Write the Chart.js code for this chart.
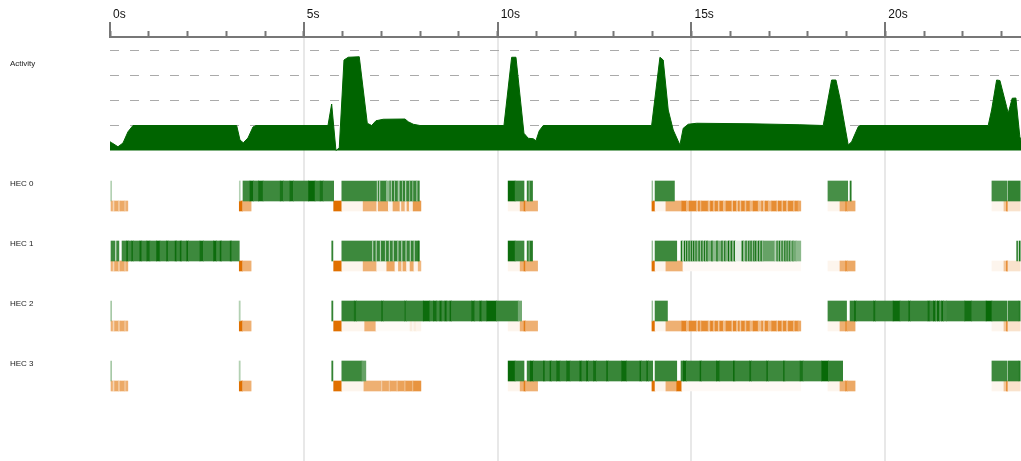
<!DOCTYPE html>
<html><head><meta charset="utf-8">
<script src="https://cdn.jsdelivr.net/npm/chart.js@4.4.1/dist/chart.umd.min.js"></script>
<style>html,body{margin:0;padding:0;background:#fff;} #wrap{width:1021px;height:461px;position:relative;}</style>
</head><body><div id="wrap"><canvas id="c"></canvas></div>
<script>
// ---------- DATA ----------
const rowLabels = ['Activity', 'HEC 0', 'HEC 1', 'HEC 2', 'HEC 3'];
const timeTicks = [0, 5, 10, 15, 20];
const minorTicks = [0,1,2,3,4,5,6,7,8,9,10,11,12,13,14,15,16,17,18,19,20,21,22,23];
const activityGrid = [1, 2, 3, 4];

// activity curve: time (s) and level
const activityTimes = [0,0.044,0.206,0.335,0.464,0.593,3.268,3.353,3.438,3.559,3.688,3.766,5.623,5.718,5.829,5.914,6.036,6.146,6.430,6.637,6.750,6.861,7.049,7.609,7.694,7.823,7.996,10.162,10.361,10.472,10.678,10.789,10.918,10.988,11.073,11.176,13.972,14.186,14.271,14.400,14.529,14.702,14.787,14.916,15.133,16.51,17.797,18.398,18.615,18.726,18.829,19.043,19.131,19.301,19.345,22.654,22.742,22.871,22.956,23.129,23.170,23.273,23.368,23.47,23.5];
const activityValues = [0.35,0.31,0.15,0.30,0.75,1.0,1.0,0.42,0.31,0.50,0.94,1.0,1.0,1.86,0.0,0.1,3.62,3.73,3.75,1.09,1.0,1.19,1.25,1.26,1.15,1.05,1.0,1.0,3.73,3.73,0.69,0.49,0.47,0.39,0.79,1.0,1.0,3.73,3.62,1.62,0.82,0.22,0.89,1.05,1.09,1.07,1.03,1.0,2.82,2.82,2.09,0.22,0.35,0.95,1.0,1.0,1.62,2.82,2.8,1.75,1.49,2.09,2.1,0.55,0.4];

// segments: [start s, end s, intensity]
const gcStart = [[0,0.08,.55],[0.08,0.12,.3],[0.12,0.22,.6],[0.22,0.26,.35],[0.26,0.38,.6],[0.38,0.41,.35],[0.41,0.46,.55],[3.335,3.42,1],[3.42,3.64,.55]];
const gcMid = [[10.27,10.58,.07],[10.58,10.68,.55],[10.68,10.72,.9],[10.72,11.03,.55]];
const gcEnd = [[18.52,18.83,.07],[18.83,18.97,.55],[18.97,19.02,.75],[19.02,19.22,.6],[22.75,23.06,.07],[23.06,23.13,.4],[23.13,23.16,.95],[23.16,23.48,.2]];
const gcStripes = [[14.75,14.87,.85],[14.87,14.94,.5],[14.94,15.13,.82],[15.13,15.18,.45],[15.18,15.22,.85],[15.22,15.26,.5],[15.26,15.43,.8],[15.43,15.49,.45],[15.49,15.56,.85],[15.56,15.61,.5],[15.61,15.69,.8],[15.69,15.73,.4],[15.73,15.82,.82],[15.82,15.89,.45],[15.89,16.04,.8],[16.04,16.08,.4],[16.08,16.16,.82],[16.16,16.21,.45],[16.21,16.25,.8],[16.25,16.29,.4],[16.29,16.38,.82],[16.38,16.42,.45],[16.42,16.51,.8],[16.51,16.59,.5],[16.59,16.72,.82],[16.72,16.81,.45],[16.81,16.85,.8],[16.85,16.9,.4],[16.9,16.98,.8],[16.98,17.07,.5],[17.07,17.2,.8],[17.2,17.24,.45],[17.24,17.33,.82],[17.33,17.37,.45],[17.37,17.45,.8],[17.45,17.5,.45],[17.5,17.63,.8],[17.63,17.67,.5],[17.67,17.75,.78],[17.75,17.82,.6]];

const hec0Run = [[0,0.03,.6],[3.335,3.36,.3],
 [3.43,3.61,.76],[3.61,3.70,.95],[3.70,3.83,.76],[3.83,3.95,.92],[3.95,4.39,.76],[4.39,4.47,.9],[4.47,4.64,.76],[4.64,4.73,.92],[4.73,5.12,.78],[5.12,5.29,.97],[5.29,5.42,.78],[5.42,5.50,.9],[5.50,5.77,.76],
 [5.98,6.89,.76],[6.89,6.92,.3],[6.92,6.95,.8],[6.95,6.98,.3],[6.98,7.13,.78],[7.13,7.22,.45],[7.22,7.25,.8],[7.25,7.28,.3],[7.28,7.34,.8],[7.34,7.36,.3],[7.36,7.43,.78],[7.43,7.48,.35],[7.48,7.54,.8],[7.54,7.56,.3],[7.56,7.62,.8],[7.62,7.65,.3],[7.65,7.73,.78],[7.73,7.75,.3],[7.75,7.81,.8],[7.81,7.83,.3],[7.83,7.91,.78],[7.91,7.94,.35],[7.94,7.98,.8],
 [10.27,10.45,.97],[10.45,10.68,.78],[10.76,10.81,.8],[10.81,10.83,.3],[10.83,10.9,.8],
 [13.98,14.0,.4],[14.06,14.56,.76],[18.52,19.03,.72],[19.09,19.12,.85],[22.75,23.13,.74],[23.16,23.48,.8]];
const hec0Gc = [...gcStart,[5.77,5.98,1],[5.98,6.53,.07],[6.53,6.88,.55],[6.88,6.92,.1],[6.92,7.18,.6],[7.18,7.30,.08],[7.30,7.48,.6],[7.48,7.52,.1],[7.52,7.61,.55],[7.61,7.66,.1],[7.66,7.72,.6],[7.72,7.82,.1],[7.82,8.02,.7],
 ...gcMid,[13.98,14.06,1],[14.06,14.34,.07],[14.34,14.75,.55],...gcStripes,...gcEnd];

const hec1Run = [[0,0.13,.76],[0.17,0.23,.76],
 [0.31,0.43,.76],[0.43,0.47,.95],[0.47,0.56,.76],[0.56,0.60,.92],[0.60,0.77,.76],[0.77,0.82,.95],[0.82,0.95,.76],[0.95,1.03,.92],[1.03,1.2,.76],[1.2,1.29,.95],[1.29,1.46,.76],[1.46,1.5,.95],[1.5,1.68,.76],[1.68,1.72,.95],[1.72,1.81,.78],[1.81,1.85,.95],[1.85,1.98,.76],[1.98,2.02,.95],[2.02,2.32,.76],[2.32,2.41,.92],[2.41,2.67,.76],[2.67,2.75,.95],[2.75,2.84,.76],[2.84,2.88,.95],[2.88,3.1,.76],[3.1,3.14,.92],[3.14,3.335,.76],
 [5.72,5.75,.8],
 [5.98,6.77,.76],[6.77,6.8,.3],[6.8,6.86,.8],[6.86,6.89,.3],[6.89,6.97,.78],[6.97,7.0,.3],[7.0,7.1,.8],[7.1,7.13,.35],[7.13,7.2,.8],[7.2,7.23,.3],[7.23,7.3,.78],[7.3,7.33,.3],[7.33,7.42,.8],[7.42,7.45,.3],[7.45,7.52,.78],[7.52,7.55,.3],[7.55,7.63,.8],[7.63,7.66,.3],[7.66,7.74,.78],[7.74,7.77,.3],[7.77,7.84,.8],[7.84,7.87,.3],[7.87,7.95,.8],[7.95,7.98,.9],
 [10.27,10.45,.95],[10.45,10.68,.76],[10.76,10.81,.8],[10.81,10.83,.3],[10.83,10.9,.85],
 [13.98,14.0,.4],[14.06,14.62,.76],
 [14.73,14.77,.9],[14.77,14.81,.2],[14.81,14.84,.95],[14.84,14.87,.4],[14.87,14.9,.95],[14.9,14.93,.35],[14.93,14.96,.95],[14.96,14.99,.4],[14.99,15.02,.9],[15.02,15.05,.45],[15.05,15.08,.95],[15.08,15.11,.4],[15.11,15.14,.9],[15.14,15.19,.45],[15.19,15.22,.95],[15.22,15.26,.4],[15.26,15.29,.95],[15.29,15.33,.45],[15.33,15.36,.9],[15.36,15.39,.4],[15.39,15.42,.95],[15.42,15.52,.5],[15.52,15.55,.95],[15.55,15.65,.45],[15.65,15.68,.95],[15.68,15.78,.5],[15.78,15.81,.95],[15.81,15.85,.4],[15.85,15.88,.9],[15.88,15.95,.5],[15.95,15.98,.95],[15.98,16.02,.4],[16.02,16.05,.95],[16.05,16.1,.45],[16.1,16.13,.9],[16.13,16.3,.12],[16.3,16.34,.9],[16.34,16.4,.4],[16.4,16.43,.95],[16.43,16.47,.4],[16.47,16.5,.9],[16.5,16.53,.45],[16.53,16.56,.95],[16.56,16.6,.4],[16.6,16.63,.9],[16.63,16.65,.45],[16.65,16.68,.95],[16.68,16.72,.4],[16.72,16.75,.9],[16.75,16.79,.45],[16.79,16.82,.95],[16.82,16.85,.4],[16.85,17.15,.6],[17.15,17.2,.3],[17.2,17.23,.9],[17.23,17.26,.35],[17.26,17.29,.9],[17.29,17.33,.4],[17.33,17.36,.9],[17.36,17.4,.4],[17.4,17.43,.9],[17.43,17.46,.45],[17.46,17.49,.85],[17.49,17.52,.45],[17.52,17.55,.8],[17.55,17.6,.5],[17.6,17.63,.7],[17.63,17.7,.55],[17.7,17.82,.45],
 [23.39,23.41,.9],[23.45,23.48,.9]];
const hec1Gc = [...gcStart,[5.77,5.98,1],[5.98,6.53,.07],[6.53,6.88,.55],[6.88,7.14,.07],[7.14,7.35,.62],[7.35,7.44,.07],[7.44,7.52,.55],[7.52,7.56,.2],[7.56,7.65,.6],[7.65,7.74,.07],[7.74,7.84,.6],[7.84,7.95,.08],[7.95,8.02,.5],
 ...gcMid,[13.98,14.06,1],[14.06,14.34,.07],[14.34,14.78,.55],[14.78,17.82,.04],...gcEnd];

const hec2Run = [[0,0.03,.7],[3.33,3.36,.3],[5.72,5.75,.8],
 [5.98,6.3,.8],[6.3,6.36,.9],[6.36,7.0,.78],[7.0,7.05,.9],[7.05,7.6,.78],[7.6,7.65,.88],[7.65,8.08,.78],[8.08,8.25,.95],[8.25,8.34,.78],[8.34,8.43,.92],[8.43,8.51,.76],[8.51,8.56,.95],[8.56,8.64,.76],[8.64,8.69,.95],[8.69,8.77,.76],[8.77,8.81,.95],[8.81,9.33,.78],[9.33,9.41,.92],[9.41,9.54,.76],[9.54,9.59,.95],[9.59,9.72,.78],[9.72,9.97,.97],[9.97,10.53,.78],[10.53,10.62,.55],
 [13.98,14.0,.4],[14.06,14.38,.76],[18.52,19.0,.76],
 [19.09,19.2,.8],[19.2,19.25,.92],[19.25,19.7,.78],[19.7,19.75,.92],[19.75,20.2,.78],[20.2,20.38,.95],[20.38,20.6,.78],[20.6,20.65,.92],[20.65,21.1,.78],[21.1,21.15,.92],[21.15,21.24,.78],[21.24,21.3,.95],[21.3,21.34,.7],[21.34,21.4,.95],[21.4,21.45,.7],[21.45,21.5,.95],[21.5,21.58,.75],[21.58,22.05,.78],[22.05,22.23,.92],[22.23,22.6,.78],[22.6,22.75,.97],[22.75,23.13,.8],
 [23.16,23.44,.8],[23.45,23.48,.85]];
const hec2Gc = [...gcStart,[5.77,5.98,1],[5.98,6.57,.07],[6.57,6.86,.55],[6.86,7.74,.03],[7.74,7.8,.12],[7.8,7.84,.05],[7.84,7.9,.12],[7.9,8.02,.08],
 ...gcMid,[13.98,14.06,1],[14.06,14.34,.07],[14.34,14.75,.55],...gcStripes,...gcEnd];

const hec3Run = [[0,0.03,.7],[3.33,3.36,.3],[5.72,5.75,.8],[5.98,6.5,.76],[6.5,6.6,.6],
 [10.27,10.45,.97],[10.45,10.68,.78],
 [10.76,10.84,.78],[10.84,10.92,.95],[10.92,11.18,.78],[11.18,11.22,.95],[11.22,11.35,.76],[11.35,11.39,.95],[11.39,11.52,.78],[11.52,11.61,.92],[11.61,11.78,.78],[11.78,11.87,.92],[11.87,12.12,.78],[12.12,12.17,.95],[12.17,12.29,.78],[12.29,12.34,.95],[12.34,12.47,.78],[12.47,12.55,.92],[12.55,12.81,.78],[12.81,12.85,.95],[12.85,13.2,.78],[13.2,13.33,.95],[13.33,13.67,.78],[13.67,13.71,.95],[13.71,13.84,.78],[13.84,13.89,.92],[13.89,14.0,.78],
 [14.06,14.62,.78],
 [14.73,14.79,.78],[14.79,14.87,.95],[14.87,15.22,.78],[15.22,15.26,.95],[15.26,15.64,.78],[15.64,15.73,.92],[15.73,16.08,.78],[16.08,16.12,.95],[16.12,16.5,.78],[16.5,16.55,.92],[16.55,16.94,.78],[16.94,16.98,.92],[16.98,17.37,.76],[17.37,17.41,.92],[17.41,17.8,.76],[17.8,17.88,.9],[17.88,18.36,.76],[18.36,18.53,.97],[18.53,18.9,.8],
 [22.75,23.13,.76],[23.16,23.44,.8],[23.45,23.48,.85]];
const hec3Gc = [...gcStart,[5.77,5.98,1],[5.98,6.55,.07],[6.55,7.0,.55],[7.0,7.03,.35],[7.03,7.2,.6],[7.2,7.23,.4],[7.23,7.4,.62],[7.4,7.43,.4],[7.43,7.6,.65],[7.6,7.63,.45],[7.63,7.8,.7],[7.8,7.83,.5],[7.83,8.02,.75],
 ...gcMid,[13.98,14.06,1],[14.06,14.34,.07],[14.34,14.62,.55],[14.62,14.75,1],[14.75,17.82,.04],...gcEnd];

// ---------- LAYOUT / STYLE ----------
const Y_MAX = 4.54, Y_MIN = -12.42;
const rowY = i => -1.62 - 2.4 * i;          // centre of running bar
const FONT = '"Liberation Sans", Arial, Helvetica, sans-serif';
const green = a => `rgb(${Math.round(255-255*a)},${Math.round(255-155*a)},${Math.round(255-255*a)})`;
const orange = a => `rgb(${Math.round(255-31*a)},${Math.round(255-143*a)},${Math.round(255-255*a)})`;
const labelVals = [3.48, rowY(0)+0.3, rowY(1)+0.3, rowY(2)+0.3, rowY(3)+0.3];

const runs = [hec0Run, hec1Run, hec2Run, hec3Run];
const gcs = [hec0Gc, hec1Gc, hec2Gc, hec3Gc];

const datasets = [{
  type: 'line', label: 'Activity',
  data: activityTimes.map((t, i) => ({x: t, y: activityValues[i]})),
  borderColor: '#006400', backgroundColor: '#006400', borderWidth: 1,
  pointRadius: 0, fill: 'origin', tension: 0, xAxisID: 'x', yAxisID: 'y'
}];
runs.forEach((segs, i) => {
  datasets.push({
    type: 'bar', indexAxis: 'y', stack: 'hec', barThickness: 20, borderWidth: 0,
    data: segs.map(s => ({x: [s[0], s[1]], y: rowY(i)})),
    backgroundColor: segs.map(s => green(s[2])), xAxisID: 'x', yAxisID: 'y'
  });
  datasets.push({
    type: 'bar', indexAxis: 'y', stack: 'hec', barThickness: 10, borderWidth: 0,
    data: gcs[i].map(s => ({x: [s[0], s[1]], y: rowY(i) - 0.6})),
    backgroundColor: gcs[i].map(s => orange(s[2])), xAxisID: 'x', yAxisID: 'y'
  });
});

const noVPad = (s, w) => { s.width = w; s.paddingTop = 0; s.paddingBottom = 0; };

new Chart(document.getElementById('c'), {
  type: 'line',
  data: { datasets },
  options: {
    responsive: true, maintainAspectRatio: false, animation: false,
    layout: { padding: { left: 10, right: 0, top: 0, bottom: 0 } },
    plugins: { legend: { display: false }, tooltip: { enabled: false } },
    scales: {
      x: {
        type: 'linear', position: 'top', min: 0, max: 23.5, offset: false, stacked: false,
        afterBuildTicks: s => { s.ticks = timeTicks.map(v => ({value: v})); },
        afterFit: s => { s.height = 37; },
        ticks: { callback: v => v + 's', align: 'start', labelOffset: 3, padding: 0, maxRotation: 0, autoSkip: false,
                 color: '#111', font: { family: FONT, size: 12 } },
        grid: { color: c => (c.tick && c.tick.value === 0) ? 'rgba(0,0,0,0)' : '#e8e8e8', lineWidth: 2,
                tickLength: 15, tickColor: '#777', tickWidth: 2, offset: false },
        border: { display: true, color: '#777', width: 2 }
      },
      xm: {
        type: 'linear', axis: 'x', position: { y: 4.78 }, min: 0, max: 23.5, offset: false,
        afterBuildTicks: s => { s.ticks = minorTicks.map(v => ({value: v})); },
        afterFit: s => { s.height = 0; },
        ticks: { display: false },
        grid: { drawOnChartArea: false, tickLength: 6, tickColor: '#777', tickWidth: 2, offset: false },
        border: { display: false }
      },
      y: {
        type: 'linear', position: 'right', min: Y_MIN, max: Y_MAX, offset: false,
        afterBuildTicks: s => { s.ticks = activityGrid.map(v => ({value: v})); },
        afterFit: s => noVPad(s, 0),
        ticks: { display: false },
        grid: { color: '#aaaaaa', lineWidth: 1, drawTicks: false, offset: false },
        border: { display: false, dash: [9, 11] }
      },
      yl: {
        type: 'linear', position: 'left', min: Y_MIN, max: Y_MAX, offset: false,
        afterBuildTicks: s => { s.ticks = labelVals.map(v => ({value: v})); },
        afterFit: s => noVPad(s, 100),
        ticks: { callback: (v, i) => rowLabels[i], crossAlign: 'far', autoSkip: false, padding: 0,
                 color: '#222', font: { family: FONT, size: 8 } },
        grid: { display: false, drawTicks: false, offset: false },
        border: { display: false }
      }
    }
  }
});
</script></body></html>
